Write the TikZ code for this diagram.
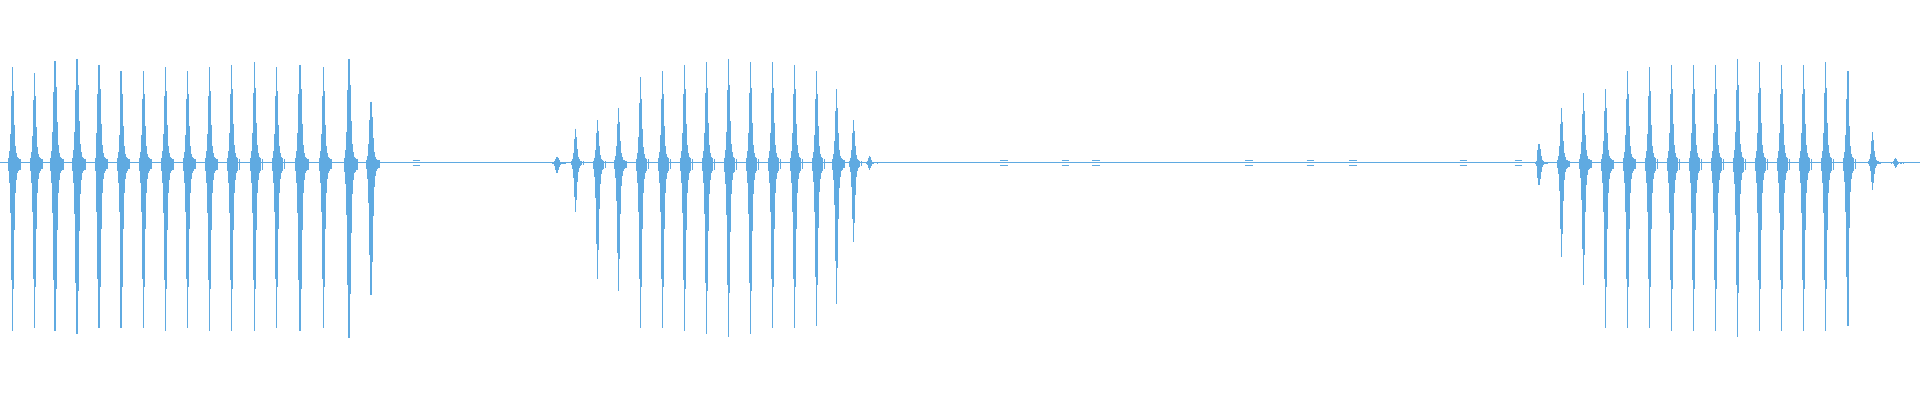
\documentclass[tikz,border=0pt]{standalone}
\definecolor{wav}{RGB}{95,170,225}
\begin{document}
\begin{tikzpicture}[x=0.5pt,y=-0.5pt,wv/.style={wav,line width=0.6pt}]
\useasboundingbox (0,0) rectangle (1568,327);
\fill[white] (0,0) rectangle (1568,327);
\draw[wav,line width=0.5pt] (0,133) -- (1568,133);
\newcommand\spk[3]{%
 \foreach \d/\f in {-4/0.05,-3/0.12,-2/0.3,-1/0.7,0/1,1/0.75,2/0.4,3/0.18,4/0.1,5/0.06,6/0.05,8/0.04}{%
  \draw[wv] ({#1+\d*0.8},{133-#2*\f}) -- ({#1+\d*0.8},{133+#3*\f});}}
\foreach \x/\u/\b in {10/78/137,28/73/135,45/83/137,63/85/140,81/80/135,99/75/135,117/75/135,135/78/137,153/75/135,171/78/137,189/80/137,208/82/137,226/78/135,245/80/137,264/78/135,285/85/143,303/50/108,
 455/5/8,470/28/40,488/35/95,505/45/105,523/70/135,541/75/135,559/80/137,577/82/140,595/85/142,613/82/140,631/82/135,649/80/135,667/75/133,683/60/115,697/35/65,710/6/6,
 1257/15/18,1275/45/77,1293/57/100,1311/60/135,1329/75/135,1347/78/135,1365/80/137,1383/80/137,1401/80/137,1419/85/142,1437/82/137,1455/80/137,1473/80/137,1491/82/137,1509/75/133,1529/25/22,1548/4/4}
 {\spk{\x}{\u}{\b}}
\foreach \x in {340,820,870,895,1020,1070,1105,1195,1240}{\draw[wv] (\x-3,131)--(\x+3,131) (\x-3,135)--(\x+3,135);}
\end{tikzpicture}
\end{document}
